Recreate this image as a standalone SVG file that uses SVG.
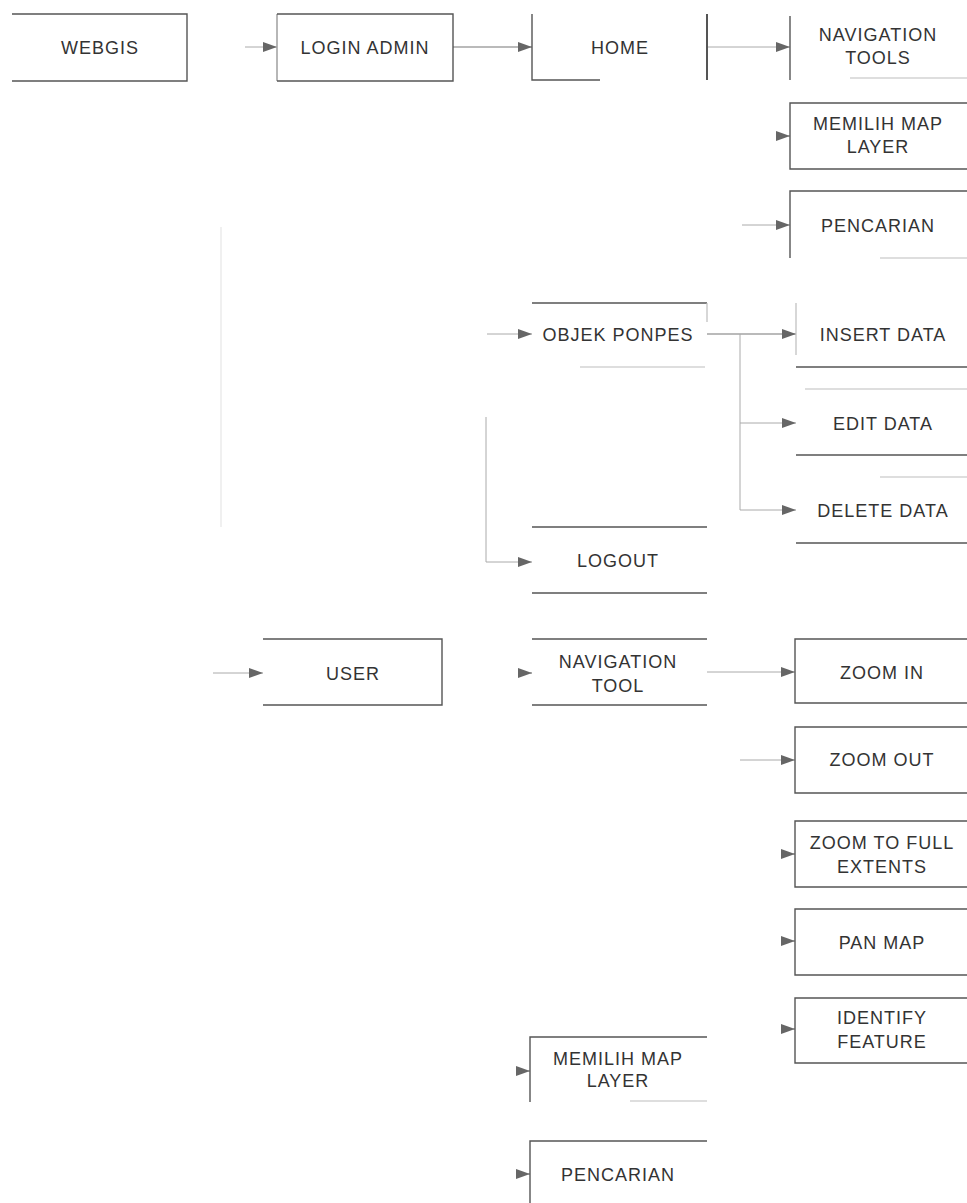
<svg xmlns="http://www.w3.org/2000/svg" width="967" height="1203" viewBox="0 0 967 1203">
  <defs>
    <style>
      .edge { stroke: #555; stroke-width: 1.4; fill: none; }
      .faint { stroke: #bdbdbd; stroke-width: 1.2; fill: none; }
      .conn { stroke: #777; stroke-width: 1.1; fill: none; }
      .conn-light { stroke: #aaa; stroke-width: 1; fill: none; }
      .label { font-family: "Liberation Sans", Arial, sans-serif; font-size: 18px; letter-spacing: 1px; fill: #333; text-anchor: middle; }
    </style>
    <marker id="arrow" markerUnits="userSpaceOnUse" markerWidth="14" markerHeight="10" refX="14" refY="5" orient="auto">
      <path d="M0,0 L14,5 L0,10 z" fill="#666"/>
    </marker>
  </defs>
  <rect width="967" height="1203" fill="#fff"/>

  <!-- connectors -->
  <g id="connectors">
    <path class="conn-light" d="M245,47 H277" marker-end="url(#arrow)"/>
    <path class="conn" d="M453,47 H532" marker-end="url(#arrow)"/>
    <path class="conn-light" d="M707,47 H790" marker-end="url(#arrow)"/>
    <path class="conn" d="M788,136 H790" marker-end="url(#arrow)"/>
    <path class="conn-light" d="M742,225 H790" marker-end="url(#arrow)"/>
    <path class="faint" style="stroke:#e6e6e6" d="M221,227 V527"/>
    <path class="conn-light" d="M487,334 H532" marker-end="url(#arrow)"/>
    <path class="conn" d="M707,334 H796" marker-end="url(#arrow)"/>
    <path class="conn-light" d="M740,334 V510"/>
    <path class="conn-light" d="M740,423 H796" marker-end="url(#arrow)"/>
    <path class="conn-light" d="M740,510 H796" marker-end="url(#arrow)"/>
    <path class="conn-light" d="M486,417 V562 H532" marker-end="url(#arrow)"/>
    <path class="conn-light" d="M213,673 H263" marker-end="url(#arrow)"/>
    <path class="conn" d="M530,673 H532" marker-end="url(#arrow)"/>
    <path class="conn-light" d="M707,672 H795" marker-end="url(#arrow)"/>
    <path class="conn-light" d="M740,760 H795" marker-end="url(#arrow)"/>
    <path class="conn" d="M793,854 H795" marker-end="url(#arrow)"/>
    <path class="conn" d="M793,941 H795" marker-end="url(#arrow)"/>
    <path class="conn" d="M793,1029 H795" marker-end="url(#arrow)"/>
    <path class="conn" d="M528,1071 H530" marker-end="url(#arrow)"/>
    <path class="conn" d="M528,1174 H530" marker-end="url(#arrow)"/>
  </g>

  <g id="webgis">
    <path class="edge" d="M12,14 H187 V81 H12"/>
    <text class="label" x="100" y="53.5">WEBGIS</text>
  </g>

  <g id="login-admin">
    <path class="edge" style="stroke:#999" d="M277,14 V81"/>
    <path class="edge" d="M277,14 H453 V81 H277"/>
    <text class="label" x="365" y="53.5">LOGIN ADMIN</text>
  </g>

  <g id="home">
    <path class="edge" d="M532,14 V80 H600"/>
    <path class="edge" style="stroke-width:2" d="M707,14 V80"/>
    <text class="label" x="620" y="53.5">HOME</text>
  </g>

  <g id="navigation-tools">
    <path class="edge" d="M790,16 V80"/>
    <path class="faint" d="M850,78 H967"/>
    <text class="label" x="878" y="40.5">NAVIGATION</text>
    <text class="label" x="878" y="63.5">TOOLS</text>
  </g>

  <g id="memilih-map-layer-admin">
    <path class="edge" d="M967,103 H790 V169 H967"/>
    <text class="label" x="878" y="129.5">MEMILIH MAP</text>
    <text class="label" x="878" y="152.5">LAYER</text>
  </g>

  <g id="pencarian-admin">
    <path class="edge" d="M967,191 H790 V258"/>
    <path class="faint" d="M880,258 H967"/>
    <text class="label" x="878" y="231.5">PENCARIAN</text>
  </g>

  <g id="objek-ponpes">
    <path class="edge" d="M532,303 H707"/>
    <path class="faint" d="M707,303 V322 M580,367 H705"/>
    <text class="label" x="618" y="340.5">OBJEK PONPES</text>
  </g>

  <g id="insert-data">
    <path class="faint" d="M796,303 V355"/>
    <path class="edge" d="M796,367 H967"/>
    <text class="label" x="883" y="340.5">INSERT DATA</text>
  </g>

  <g id="edit-data">
    <path class="faint" d="M805,389 H967"/>
    <path class="edge" d="M796,455 H967"/>
    <text class="label" x="883" y="429.5">EDIT DATA</text>
  </g>

  <g id="delete-data">
    <path class="faint" d="M880,477 H967"/>
    <path class="edge" d="M796,543 H967"/>
    <text class="label" x="883" y="516.5">DELETE DATA</text>
  </g>

  <g id="logout">
    <path class="edge" d="M532,527 H707 M532,593 H707"/>
    <text class="label" x="618" y="566.5">LOGOUT</text>
  </g>

  <g id="user">
    <path class="edge" d="M263,639 H442 V705 H263"/>
    <text class="label" x="353" y="679.5">USER</text>
  </g>

  <g id="navigation-tool">
    <path class="edge" d="M532,639 H707 M532,705 H707"/>
    <text class="label" x="618" y="667.5">NAVIGATION</text>
    <text class="label" x="618" y="691.5">TOOL</text>
  </g>

  <g id="zoom-in">
    <path class="edge" d="M967,639 H795 V703 H967"/>
    <text class="label" x="882" y="678.5">ZOOM IN</text>
  </g>

  <g id="zoom-out">
    <path class="edge" d="M967,727 H795 V793 H967"/>
    <text class="label" x="882" y="765.5">ZOOM OUT</text>
  </g>

  <g id="zoom-full-extents">
    <path class="edge" d="M967,821 H795 V887 H967"/>
    <text class="label" x="882" y="848.5">ZOOM TO FULL</text>
    <text class="label" x="882" y="872.5">EXTENTS</text>
  </g>

  <g id="pan-map">
    <path class="edge" d="M967,909 H795 V975 H967"/>
    <text class="label" x="882" y="948.5">PAN MAP</text>
  </g>

  <g id="identify-feature">
    <path class="edge" d="M967,998 H795 V1063 H967"/>
    <text class="label" x="882" y="1023.5">IDENTIFY</text>
    <text class="label" x="882" y="1047.5">FEATURE</text>
  </g>

  <g id="memilih-map-layer-user">
    <path class="edge" d="M707,1037 H530 V1102"/>
    <path class="faint" d="M630,1101 H707"/>
    <text class="label" x="618" y="1064.5">MEMILIH MAP</text>
    <text class="label" x="618" y="1086.5">LAYER</text>
  </g>

  <g id="pencarian-user">
    <path class="edge" d="M707,1141 H530 V1203"/>
    <text class="label" x="618" y="1180.5">PENCARIAN</text>
  </g>
</svg>
